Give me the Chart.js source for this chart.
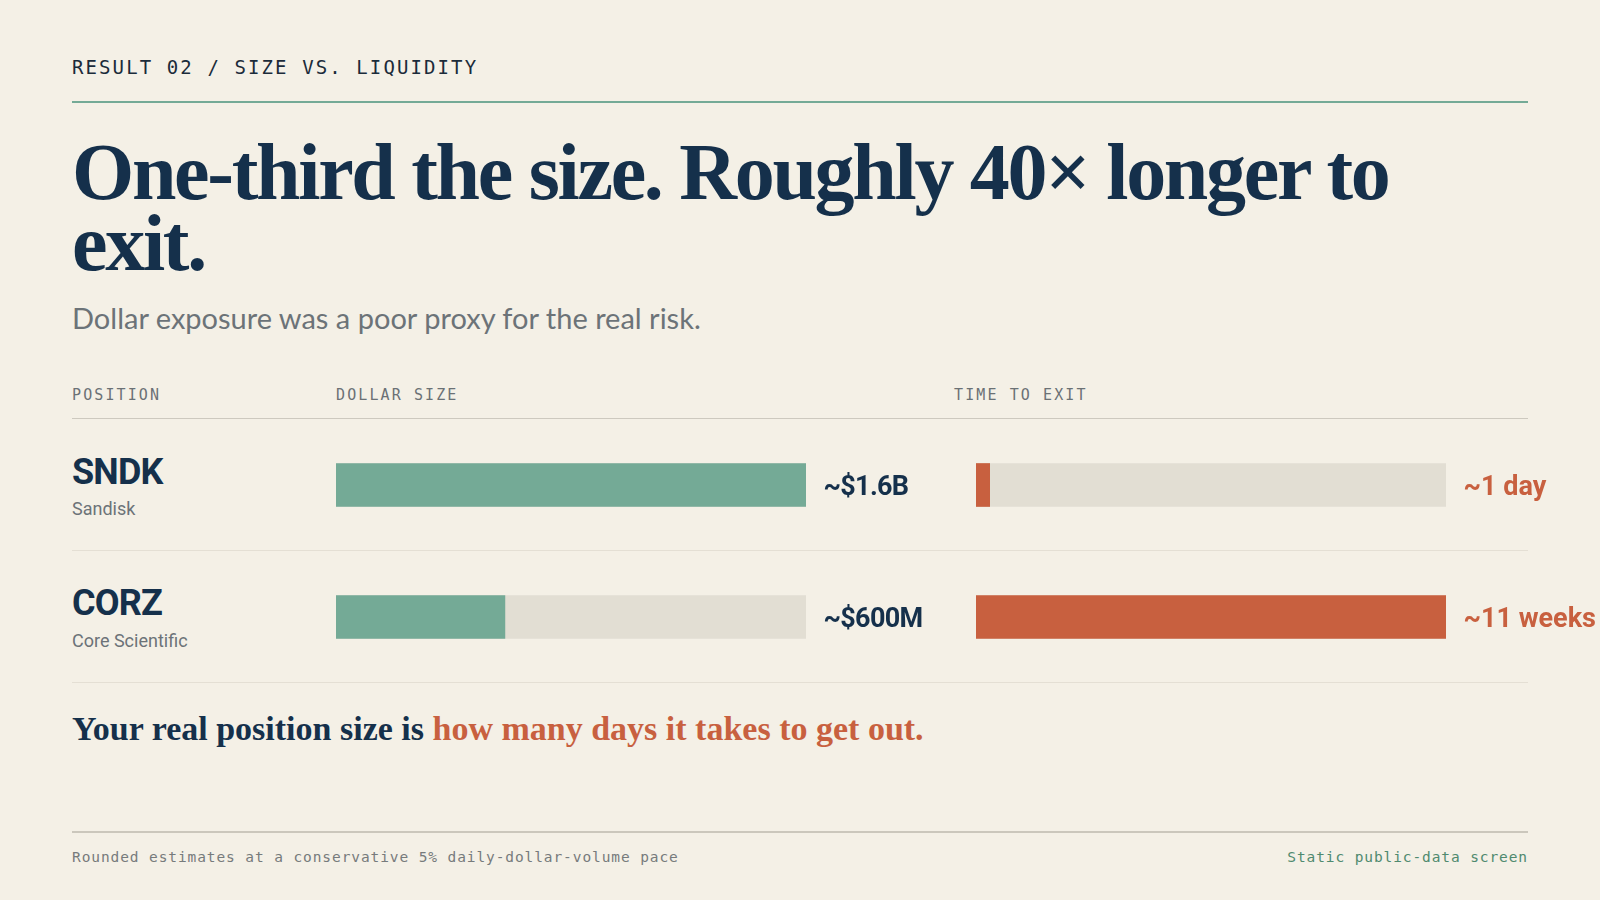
<!DOCTYPE html>
<html>
<head>
<meta charset="utf-8">
<script src="https://cdn.jsdelivr.net/npm/chart.js@4.4.1/dist/chart.umd.min.js"></script>
<style>
  html, body { margin: 0; padding: 0; }
  body { width: 1600px; height: 900px; background: #f4f0e6; position: relative; overflow: hidden; color: #15304b; }
  .abs { position: absolute; line-height: 1; white-space: nowrap; }
  .mono { font-family: "DejaVu Sans Mono", monospace; }
  .kicker { left: 72px; top: 57.5px; font-size: 19px; letter-spacing: 2.1px; color: #1b2b3a; }
  .rule { position: absolute; left: 72px; width: 1456px; }
  h1 { position: absolute; left: 72px; top: 136.5px; margin: 0; font-family: "Liberation Serif", serif; font-weight: 700; font-size: 80px; line-height: 71px; letter-spacing: -2.3px; color: #15304b; white-space: nowrap; }
  .sub { left: 72px; top: 303px; font-family: Lato, sans-serif; font-size: 29px; color: #6c7378; }
  .colhead { top: 388.3px; font-size: 15px; letter-spacing: 2.1px; color: #6b7175; }
  .ticker { left: 72px; font-family: Roboto, sans-serif; font-weight: 700; font-size: 36px; letter-spacing: -0.8px; color: #15304b; }
  .company { left: 72px; font-family: Roboto, sans-serif; font-size: 18px; color: #6c7378; }
  .chartbox { position: absolute; top: 419px; height: 264px; }
  .take { left: 72px; top: 711.5px; font-family: "Liberation Serif", serif; font-weight: 700; font-size: 34px; letter-spacing: 0px; color: #15304b; }
  .take span { color: #c8603f; }
  .foot { top: 849.7px; font-size: 14.5px; letter-spacing: 0.9px; }
</style>
</head>
<body>
<div class="abs mono kicker">RESULT 02 / SIZE VS. LIQUIDITY</div>
<div class="rule" style="top:101px;height:2px;background:#74aa96;"></div>
<h1>One-third the size. Roughly 40× longer to<br>exit.</h1>
<div class="abs sub">Dollar exposure was a poor proxy for the real risk.</div>

<div class="abs mono colhead" style="left:72px;">POSITION</div>
<div class="abs mono colhead" style="left:336px;">DOLLAR SIZE</div>
<div class="abs mono colhead" style="left:954px;">TIME TO EXIT</div>
<div class="rule" style="top:418px;height:1px;background:#cdc9bf;"></div>

<div class="abs ticker" style="top:453.8px;">SNDK</div>
<div class="abs company" style="top:499.5px;">Sandisk</div>
<div class="rule" style="top:550px;height:1px;background:#e4dfd4;"></div>
<div class="abs ticker" style="top:584.8px;">CORZ</div>
<div class="abs company" style="top:631.5px;">Core Scientific</div>
<div class="rule" style="top:682px;height:1px;background:#e4dfd4;"></div>

<div class="chartbox" style="left:336px;width:621px;"><canvas id="sizeCanvas"></canvas></div>
<div class="chartbox" style="left:976px;width:624px;"><canvas id="exitCanvas"></canvas></div>

<div class="abs take">Your real position size is <span>how many days it takes to get out.</span></div>

<div class="rule" style="top:831px;height:1.5px;background:#cbc7bc;"></div>
<div class="abs mono foot" style="left:72px;color:#777b7c;">Rounded estimates at a conservative 5% daily-dollar-volume pace</div>
<div class="abs mono foot" style="right:72px;color:#4f8a6f;">Static public-data screen</div>

<script>
const positions = ["SNDK", "CORZ"];
// dollar size in $M
const dollarSize = [1600, 575];
const dollarLabels = ["~$1.6B", "~$600M"];
// trading days to exit at 5% of daily dollar volume
const daysToExit = [1.6, 55];
const exitLabels = ["~1 day", "~11 weeks"];

const TRACK = "#e2ded3";
const GREEN = "#74aa96";
const ORANGE = "#c8603f";
const NAVY = "#15304b";

// writes the value text just past the grey track
const valueLabels = {
  id: "valueLabels",
  afterDatasetsDraw(chart, args, opts) {
    const { ctx, chartArea } = chart;
    const meta = chart.getDatasetMeta(0);
    ctx.save();
    ctx.font = "700 27px Roboto";
    ctx.fillStyle = opts.color;
    ctx.textBaseline = "alphabetic";
    if ("letterSpacing" in ctx) ctx.letterSpacing = opts.spacing;
    meta.data.forEach((bar, i) => {
      ctx.fillText(opts.labels[i], chartArea.right + 17.5, bar.y + 9.6);
    });
    ctx.restore();
  },
};

function barChart(canvasId, values, fill, labels, labelColor, spacing, padRight) {
  const max = Math.max(...values);
  return new Chart(document.getElementById(canvasId), {
    type: "bar",
    data: {
      labels: positions,
      datasets: [
        {
          data: values,
          backgroundColor: fill,
          borderWidth: 0,
          barThickness: 43,
          grouped: false,
          order: 1,
        },
        {
          data: values.map(() => max),
          backgroundColor: TRACK,
          borderWidth: 0,
          barThickness: 43,
          grouped: false,
          order: 2,
        },
      ],
    },
    options: {
      indexAxis: "y",
      responsive: true,
      maintainAspectRatio: false,
      animation: false,
      layout: { padding: { left: 0, right: padRight, top: 0, bottom: 0 } },
      plugins: {
        legend: { display: false },
        tooltip: { enabled: false },
        valueLabels: { labels: labels, color: labelColor, spacing: spacing },
      },
      scales: {
        x: { display: false, min: 0, max: max },
        y: { display: false },
      },
    },
    plugins: [valueLabels],
  });
}

barChart("sizeCanvas", dollarSize, GREEN, dollarLabels, NAVY, "-0.7px", 151);
barChart("exitCanvas", daysToExit, ORANGE, exitLabels, ORANGE, "0px", 154);
</script>
</body>
</html>
